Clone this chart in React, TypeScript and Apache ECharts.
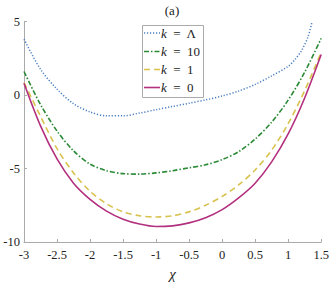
import React, { useEffect, useRef } from "react";
import * as echarts from "echarts";

const chi = [-3, -2.75, -2.5, -2.25, -2, -1.75, -1.5, -1.25, -1, -0.75, -0.5, -0.25, 0, 0.25, 0.5, 0.75, 1, 1.25, 1.5];
const chiLambda = [-3, -2.75, -2.5, -2.25, -2, -1.75, -1.5, -1.25, -1, -0.75, -0.5, -0.25, 0, 0.25, 0.5, 0.75, 1, 1.1, 1.2, 1.3, 1.36];
const kLambda = [3.8, 1.75, 0.4, -0.6, -1.15, -1.42, -1.42, -1.23, -1.0, -0.78, -0.56, -0.33, -0.07, 0.27, 0.72, 1.3, 1.95, 2.4, 3.0, 3.95, 4.95];
const k10 = [1.6, -0.65, -2.45, -3.8, -4.7, -5.15, -5.35, -5.38, -5.3, -5.15, -4.95, -4.75, -4.4, -3.85, -3.0, -1.85, -0.35, 1.55, 3.85];
const k1 = [0.85, -1.45, -3.65, -5.3, -6.55, -7.4, -7.95, -8.22, -8.3, -8.22, -7.95, -7.5, -6.9, -6.12, -5.1, -3.75, -1.95, 0.3, 2.9];
const k0 = [0.8, -2.1, -4.35, -6.0, -7.1, -7.9, -8.45, -8.78, -8.95, -8.9, -8.7, -8.35, -7.8, -7.0, -6.0, -4.55, -2.65, -0.2, 2.75];
const seriesNames = ["k = Λ", "k = 10", "k = 1", "k = 0"];
const seriesColors = ["#4a7fc1", "#2a8a35", "#d8c24e", "#b3307e"];
const xTicks = { min: -3, max: 1.5, interval: 0.5 };
const yTicks = { min: -10, max: 5, interval: 5 };

const FONT = "Liberation Serif, serif";

export default function App() {
  const ref = useRef<HTMLDivElement>(null);
  useEffect(() => {
    if (!ref.current) return;
    const chart = echarts.init(ref.current, null, { renderer: "svg" });
    const pair = (xs: number[], ys: number[]) => xs.map((x, i) => [x, ys[i]]);
    const dashes: any[] = [[1.2, 1.8], [5, 2, 1.5, 2], [6, 4], "solid"];
    const mk = (i: number, data: number[][]) => ({
      name: seriesNames[i],
      type: "line",
      data,
      smooth: 0.3,
      showSymbol: false,
      symbol: "none",
      lineStyle: { color: seriesColors[i], type: dashes[i], width: i === 0 ? 1.5 : 1.6 },
      itemStyle: { color: seriesColors[i] },
    });
    const legendItems: any[] = [];
    const ys = [33, 51.5, 69.5, 87.5];
    seriesNames.forEach((n, i) => {
      legendItems.push({
        type: "line",
        shape: { x1: 144, y1: ys[i], x2: 160, y2: ys[i] },
        style: {
          stroke: seriesColors[i],
          lineWidth: 1.6,
          lineDash: dashes[i] === "solid" ? null : dashes[i],
        },
        z: 101,
      });
      legendItems.push({
        type: "text",
        x: 161,
        y: ys[i],
        z: 101,
        style: {
          text: "{i|k}{t|" + n.slice(1).replace(/ /g, "  ") + "}",
          verticalAlign: "middle",
          rich: {
            i: { fontFamily: FONT, fontStyle: "italic", fontSize: 13, fill: "#222", color: "#222" },
            t: { fontFamily: FONT, fontSize: 13, fill: "#222", color: "#222" },
          },
        },
      });
    });
    chart.setOption({
      animation: false,
      backgroundColor: "#ffffff",
      textStyle: { fontFamily: FONT },
      grid: { left: 24, right: 10, top: 21.5, bottom: 39.5 },
      graphic: [
        {
          type: "text",
          x: 172,
          y: 10,
          style: { text: "(a)", fontFamily: FONT, fontSize: 13, fill: "#222", align: "center", verticalAlign: "middle" },
        },
        {
          type: "rect",
          shape: { x: 142.5, y: 25.5, width: 61, height: 72 },
          style: { fill: "#ffffff", stroke: "#aaaaaa", lineWidth: 1 },
          z: 100,
        },
        ...legendItems,
      ],
      xAxis: {
        type: "value",
        min: xTicks.min,
        max: xTicks.max,
        interval: xTicks.interval,
        name: "χ",
        nameLocation: "middle",
        nameGap: 24,
        nameTextStyle: { fontFamily: FONT, fontSize: 15, fontStyle: "italic", color: "#222" },
        axisLine: { onZero: false, lineStyle: { color: "#aaaaaa", width: 1 } },
        axisTick: { inside: true, length: 3, lineStyle: { color: "#aaaaaa" } },
        axisLabel: { fontFamily: FONT, fontSize: 12.5, color: "#222", margin: 6 },
        splitLine: { show: false },
      },
      yAxis: {
        type: "value",
        min: yTicks.min,
        max: yTicks.max,
        interval: yTicks.interval,
        axisLine: { show: true, onZero: false, lineStyle: { color: "#aaaaaa", width: 1 } },
        axisTick: { show: true, inside: true, length: 3, lineStyle: { color: "#aaaaaa" } },
        axisLabel: { fontFamily: FONT, fontSize: 12.5, color: "#222", margin: 4 },
        splitLine: { show: false },
      },
      series: [
        mk(0, pair(chiLambda, kLambda)),
        mk(1, pair(chi, k10)),
        mk(2, pair(chi, k1)),
        mk(3, pair(chi, k0)),
      ],
    });
    return () => chart.dispose();
  }, []);
  return <div ref={ref} style={{ width: 332, height: 286, position: "absolute", left: 0, top: 0 }} />;
}
